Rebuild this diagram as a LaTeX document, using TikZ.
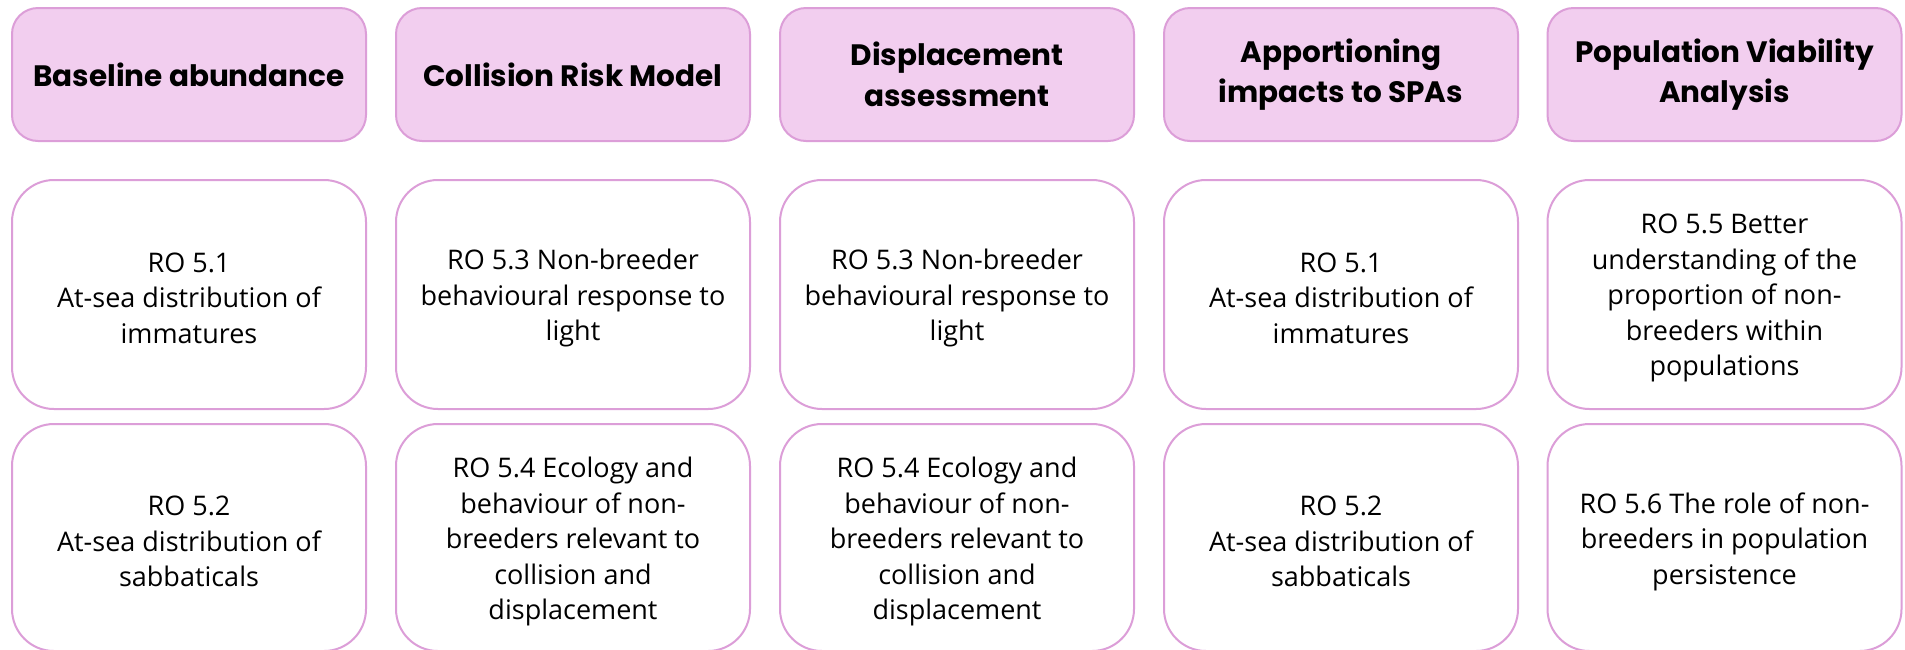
\documentclass[tikz,border=0pt]{standalone}
\usepackage{fontspec}
\setmainfont{Open Sans}
\newfontfamily\headfont{Poppins}[UprightFont=* Bold]
\definecolor{pinkfill}{RGB}{242,206,239}
\definecolor{pinkline}{RGB}{220,158,216}
\begin{document}
\begin{tikzpicture}[x=1pt,y=-1pt,
  headbox/.style={draw=pinkline, fill=pinkfill, line width=2pt, rounded corners=26pt,
    minimum width=354pt, minimum height=133pt, inner sep=0pt, align=center,
    font=\headfont\fontsize{29.5}{40.5}\selectfont, text=black},
  robox/.style={draw=pinkline, fill=white, line width=2pt, rounded corners=42pt,
    minimum width=354pt, inner sep=0pt},
  rowa/.style={robox, minimum height=229pt},
  rowb/.style={robox, minimum height=227pt},
  rotext/.style={inner sep=0pt, align=center, font=\fontsize{27}{35.5}\selectfont, text=black}]
\useasboundingbox (0,0) rectangle (1905,649);
\fill[white] (0,0) rectangle (1905,649);
% headers
\node[headbox] (h1) at (189,74.5) {Baseline abundance};
\node[headbox] (h2) at (573,74.5) {Collision Risk Model};
\node[headbox] (h3) at (957,74.5) {Displacement\\assessment};
\node[headbox] (h4) at (1341,74.5) {Apportioning\\impacts to SPAs};
\node[headbox] (h5) at (1724.5,74.5) {Population Viability\\Analysis};
% row 1 boxes
\node[rowa] (a1) at (189,294.5) {};
\node[rowa] (a2) at (573,294.5) {};
\node[rowa] (a3) at (957,294.5) {};
\node[rowa] (a4) at (1341,294.5) {};
\node[rowa] (a5) at (1724.5,294.5) {};
% row 2 boxes
\node[rowb] (b1) at (189,537.5) {};
\node[rowb] (b2) at (573,537.5) {};
\node[rowb] (b3) at (957,537.5) {};
\node[rowb] (b4) at (1341,537.5) {};
\node[rowb] (b5) at (1724.5,537.5) {};
% row 1 texts
\node[rotext] (a1t) at ([yshift=-3.5pt]a1.center) {RO 5.1\\At-sea distribution of\\immatures};
\node[rotext] (a2t) at ([yshift=-3.5pt]a2.center) {RO 5.3 Non-breeder\\behavioural response to\\light};
\node[rotext] (a3t) at ([yshift=-3.5pt]a3.center) {RO 5.3 Non-breeder\\behavioural response to\\light};
\node[rotext] (a4t) at ([yshift=-3.5pt]a4.center) {RO 5.1\\At-sea distribution of\\immatures};
\node[rotext] (a5t) at ([yshift=-3.5pt]a5.center) {RO 5.5 Better\\understanding of the\\proportion of non-\\breeders within\\populations};
% row 2 texts
\node[rotext] (b1t) at ([yshift=-4pt]b1.center) {RO 5.2\\At-sea distribution of\\sabbaticals};
\node[rotext] (b2t) at ([yshift=-4pt]b2.center) {RO 5.4 Ecology and\\behaviour of non-\\breeders relevant to\\collision and\\displacement};
\node[rotext] (b3t) at ([yshift=-4pt]b3.center) {RO 5.4 Ecology and\\behaviour of non-\\breeders relevant to\\collision and\\displacement};
\node[rotext] (b4t) at ([yshift=-4pt]b4.center) {RO 5.2\\At-sea distribution of\\sabbaticals};
\node[rotext] (b5t) at ([yshift=-4pt]b5.center) {RO 5.6 The role of non-\\breeders in population\\persistence};
\end{tikzpicture}
\end{document}
